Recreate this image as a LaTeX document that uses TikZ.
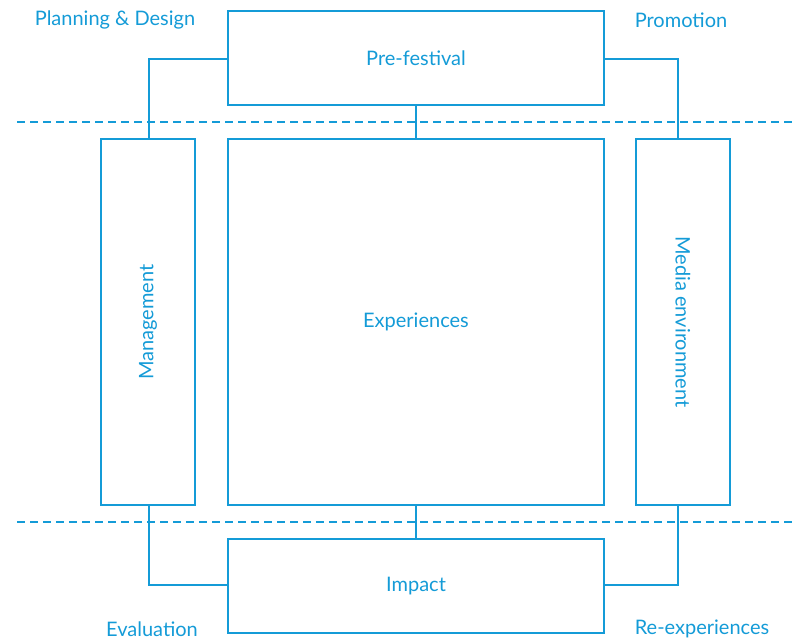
\documentclass[tikz,border=0pt]{standalone}
\usepackage{fontspec}
\setmainfont{Lato}
\definecolor{fblue}{RGB}{20,155,215}
\begin{document}
\begin{tikzpicture}[x=1pt,y=-1pt,
  box/.style={draw=fblue,line width=1.4pt,rectangle,inner sep=0pt,text=fblue,font=\fontsize{20}{24}\selectfont},
  lab/.style={text=fblue,font=\fontsize{20}{24}\selectfont,inner sep=0pt},
  link/.style={draw=fblue,line width=1.4pt},
  sep/.style={draw=fblue,line width=1.4pt,dash pattern=on 8pt off 5pt}]
\useasboundingbox (0,0) rectangle (793,640);
\node[box,minimum width=376pt,minimum height=94pt] (pre) at (416,58) {Pre-festival};
\node[box,minimum width=376pt,minimum height=366pt] (exp) at (416,322) {Experiences};
\node[box,minimum width=94pt,minimum height=366pt] (man) at (148,322) {\rotatebox{90}{Management}};
\node[box,minimum width=94pt,minimum height=366pt] (med) at (683,322) {\rotatebox{-90}{Media environment}};
\node[box,minimum width=376pt,minimum height=94pt] (imp) at (416,586) {Impact};
\coordinate (s1) at (17,122); \coordinate (s2) at (793,122);
\coordinate (s3) at (17,522); \coordinate (s4) at (793,522);
\draw[sep] (s1) -- (s2);
\draw[sep] (s3) -- (s4);
\draw[link] (pre.south) -- (exp.north);
\draw[link] (exp.south) -- (imp.north);
\draw[link] (pre.west |- 0,59) -| ([xshift=1pt]man.north);
\draw[link] (pre.east |- 0,59) -| ([xshift=-5pt]med.north);
\draw[link] ([xshift=1pt]man.south) |- (imp.west |- 0,585);
\draw[link] ([xshift=-5pt]med.south) |- (imp.east |- 0,585);
\node[lab] (pd) at (115,20) {Planning \& Design};
\node[lab] (pr) at (681,20) {Promotion};
\node[lab] (ev) at (152,629) {Evaluation};
\node[lab] (re) at (702,629) {Re-experiences};
\end{tikzpicture}
\end{document}
